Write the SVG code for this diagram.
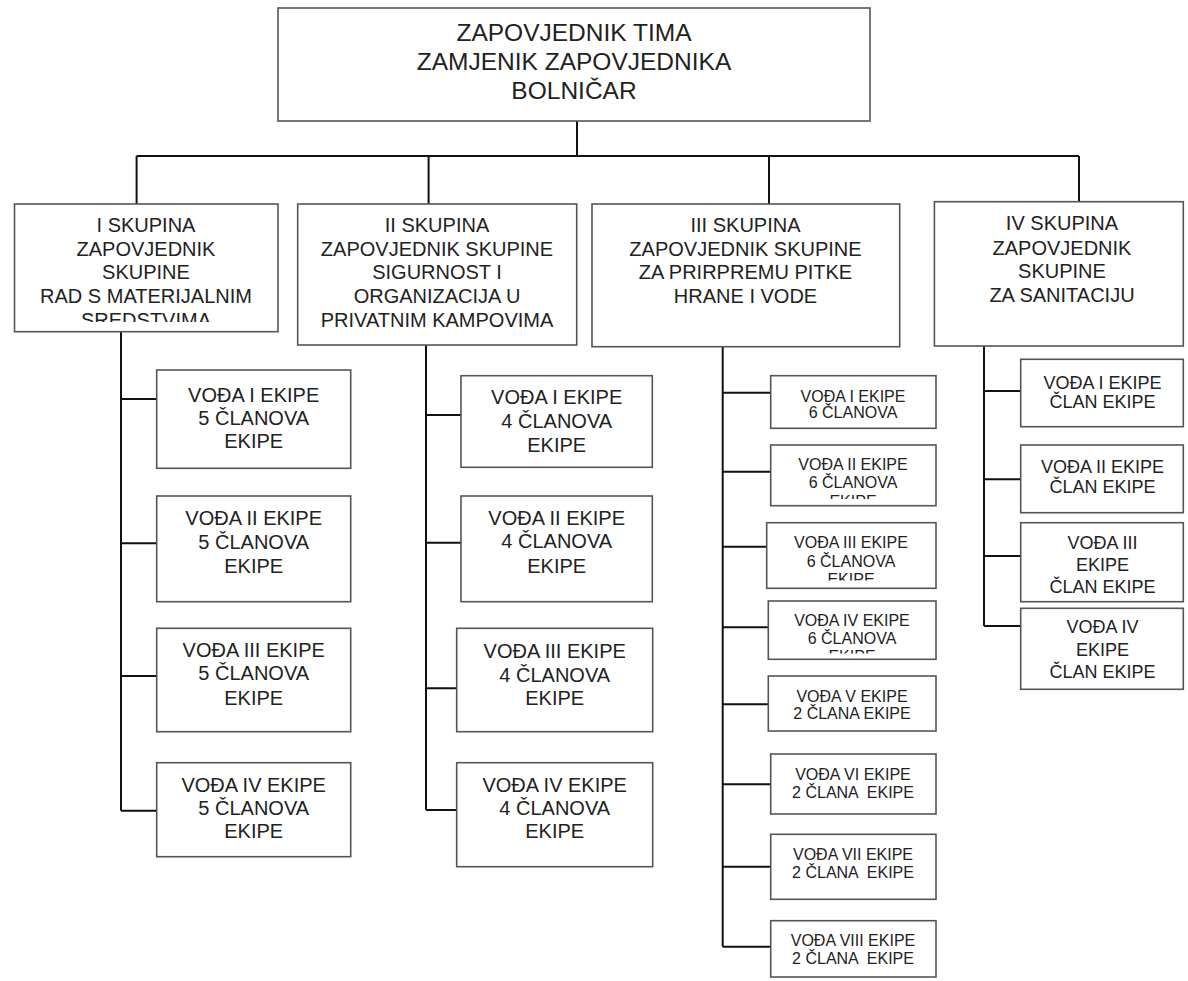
<svg xmlns="http://www.w3.org/2000/svg" width="1188" height="981" viewBox="0 0 1188 981">
<style>
.box{fill:#fff;stroke:#555;stroke-width:1.6}
.con{fill:none;stroke:#111;stroke-width:2}
text{font-family:"Liberation Sans",Arial,sans-serif;fill:#222;text-anchor:middle}
.t0{font-size:24.5px}
.t1{font-size:20px}
.t2{font-size:20px}
.t3{font-size:16px;white-space:pre}
.t4{font-size:18px}
</style>
<defs>
<clipPath id="cg1"><rect x="14" y="204" width="264" height="118"/></clipPath>
<clipPath id="cc2"><rect x="770" y="445" width="166" height="54"/></clipPath>
<clipPath id="cc3"><rect x="766" y="522" width="170" height="58.5"/></clipPath>
<clipPath id="cc4"><rect x="768" y="601" width="168" height="52.5"/></clipPath>
</defs>
<rect width="1188" height="981" fill="#fff"/>
<g id="connectors">
<path class="con" d="M577 121V156M136.6 156H1079M136.6 156V204M428.6 156V204M769 156V204M1079 156V202"/>
<path class="con" d="M121 331.7V810.7M121 399H156.7M121 543.3H156.7M121 676H156.7M121 810.7H156.7"/>
<path class="con" d="M426 345V810M426 415H461M426 542.7H461M426 688.3H456.7M426 810H456.7"/>
<path class="con" d="M722.7 346.7V946.7M722.7 392.7H770.7M722.7 471.7H770.7M722.7 546.7H766.7M722.7 627.3H768.3M722.7 704.3H768.3M722.7 784.3H770.7M722.7 866.7H770.7M722.7 946.7H770.7"/>
<path class="con" d="M984 346V626M984 391H1020.7M984 479.3H1020.7M984 556H1020.7M984 626H1020.7"/>
</g>
<g id="top">
<rect class="box" x="278" y="8" width="592" height="113"/>
<text class="t0" x="574" y="41">ZAPOVJEDNIK TIMA</text>
<text class="t0" x="574" y="69.5">ZAMJENIK ZAPOVJEDNIKA</text>
<text class="t0" x="574" y="98.5">BOLNIČAR</text>
</g>
<g id="g1">
<rect class="box" x="14.5" y="204" width="263.5" height="127.7"/>
<g clip-path="url(#cg1)">
<text class="t1" x="146" y="231.7">I SKUPINA</text>
<text class="t1" x="146" y="255.5">ZAPOVJEDNIK</text>
<text class="t1" x="146" y="279.3">SKUPINE</text>
<text class="t1" x="146" y="302.7">RAD S MATERIJALNIM</text>
<text class="t1" x="146" y="326.5">SREDSTVIMA</text>
</g>
</g>
<g id="g2">
<rect class="box" x="297.7" y="204" width="279" height="141"/>
<text class="t1" x="437" y="231.7">II SKUPINA</text>
<text class="t1" x="437" y="256">ZAPOVJEDNIK SKUPINE</text>
<text class="t1" x="437" y="279.3">SIGURNOST I</text>
<text class="t1" x="437" y="302.7">ORGANIZACIJA U</text>
<text class="t1" x="437" y="326.7">PRIVATNIM KAMPOVIMA</text>
</g>
<g id="g3">
<rect class="box" x="592" y="204" width="307.7" height="142.7"/>
<text class="t1" x="745.5" y="231.7">III SKUPINA</text>
<text class="t1" x="745.5" y="256">ZAPOVJEDNIK SKUPINE</text>
<text class="t1" x="745.5" y="279.3">ZA PRIRPREMU PITKE</text>
<text class="t1" x="745.5" y="302.7">HRANE I VODE</text>
</g>
<g id="g4">
<rect class="box" x="934.4" y="201.7" width="248.9" height="144.3"/>
<text class="t1" x="1062" y="230">IV SKUPINA</text>
<text class="t1" x="1062" y="254.5">ZAPOVJEDNIK</text>
<text class="t1" x="1062" y="278">SKUPINE</text>
<text class="t1" x="1062" y="301.7">ZA SANITACIJU</text>
</g>
<g id="c1e1">
<rect class="box" x="156.7" y="370" width="194" height="98.3"/>
<text class="t2" x="253.7" y="401.7">VOĐA I EKIPE</text>
<text class="t2" x="253.7" y="425">5 ČLANOVA</text>
<text class="t2" x="253.7" y="448.3">EKIPE</text>
</g>
<g id="c1e2">
<rect class="box" x="156.7" y="496" width="194" height="105.7"/>
<text class="t2" x="253.7" y="525">VOĐA II EKIPE</text>
<text class="t2" x="253.7" y="549">5 ČLANOVA</text>
<text class="t2" x="253.7" y="573">EKIPE</text>
</g>
<g id="c1e3">
<rect class="box" x="156.7" y="628.3" width="194" height="103.4"/>
<text class="t2" x="253.7" y="656.7">VOĐA III EKIPE</text>
<text class="t2" x="253.7" y="680">5 ČLANOVA</text>
<text class="t2" x="253.7" y="705">EKIPE</text>
</g>
<g id="c1e4">
<rect class="box" x="156.7" y="762.7" width="194" height="94"/>
<text class="t2" x="253.7" y="791.7">VOĐA IV EKIPE</text>
<text class="t2" x="253.7" y="815">5 ČLANOVA</text>
<text class="t2" x="253.7" y="837.5">EKIPE</text>
</g>
<g id="c2e1">
<rect class="box" x="461" y="375.7" width="191.3" height="91.6"/>
<text class="t2" x="556.7" y="404">VOĐA I EKIPE</text>
<text class="t2" x="556.7" y="428.3">4 ČLANOVA</text>
<text class="t2" x="556.7" y="451.7">EKIPE</text>
</g>
<g id="c2e2">
<rect class="box" x="461" y="496" width="191.3" height="105.7"/>
<text class="t2" x="556.7" y="525">VOĐA II EKIPE</text>
<text class="t2" x="556.7" y="548.3">4 ČLANOVA</text>
<text class="t2" x="556.7" y="573.3">EKIPE</text>
</g>
<g id="c2e3">
<rect class="box" x="456.7" y="628.3" width="196" height="103.4"/>
<text class="t2" x="554.7" y="658.3">VOĐA III EKIPE</text>
<text class="t2" x="554.7" y="681.7">4 ČLANOVA</text>
<text class="t2" x="554.7" y="705">EKIPE</text>
</g>
<g id="c2e4">
<rect class="box" x="456.7" y="762.7" width="196" height="104"/>
<text class="t2" x="554.7" y="791.7">VOĐA IV EKIPE</text>
<text class="t2" x="554.7" y="815">4 ČLANOVA</text>
<text class="t2" x="554.7" y="838.3">EKIPE</text>
</g>
<g id="c3e1">
<rect class="box" x="770.7" y="375.7" width="165.3" height="52.6"/>
<text class="t3" x="853" y="401.7">VOĐA I EKIPE</text>
<text class="t3" x="853" y="418.3">6 ČLANOVA</text>
</g>
<g id="c3e2">
<rect class="box" x="770.7" y="445" width="165.3" height="60.7"/>
<g clip-path="url(#cc2)">
<text class="t3" x="853" y="470">VOĐA II EKIPE</text>
<text class="t3" x="853" y="488.3">6 ČLANOVA</text>
<text class="t3" x="853" y="506.6">EKIPE</text>
</g>
</g>
<g id="c3e3">
<rect class="box" x="766.7" y="522.7" width="169.3" height="65.6"/>
<g clip-path="url(#cc3)">
<text class="t3" x="851" y="548.3">VOĐA III EKIPE</text>
<text class="t3" x="851" y="566.7">6 ČLANOVA</text>
<text class="t3" x="851" y="585">EKIPE</text>
</g>
</g>
<g id="c3e4">
<rect class="box" x="768.3" y="601" width="167.7" height="58.3"/>
<g clip-path="url(#cc4)">
<text class="t3" x="852" y="626">VOĐA IV EKIPE</text>
<text class="t3" x="852" y="644">6 ČLANOVA</text>
<text class="t3" x="852" y="662.3">EKIPE</text>
</g>
</g>
<g id="c3e5">
<rect class="box" x="768.3" y="676" width="167.7" height="55"/>
<text class="t3" x="852" y="701.7">VOĐA V EKIPE</text>
<text class="t3" x="852" y="719.3">2 ČLANA EKIPE</text>
</g>
<g id="c3e6">
<rect class="box" x="770.7" y="754" width="165.3" height="60"/>
<text class="t3" x="853" y="780">VOĐA VI EKIPE</text>
<text class="t3" x="853" y="798.3">2 ČLANA  EKIPE</text>
</g>
<g id="c3e7">
<rect class="box" x="770.7" y="834.3" width="165.3" height="65"/>
<text class="t3" x="853" y="860">VOĐA VII EKIPE</text>
<text class="t3" x="853" y="878.3">2 ČLANA  EKIPE</text>
</g>
<g id="c3e8">
<rect class="box" x="770.7" y="920.7" width="165.3" height="56.3"/>
<text class="t3" x="853" y="946">VOĐA VIII EKIPE</text>
<text class="t3" x="853" y="964">2 ČLANA  EKIPE</text>
</g>
<g id="c4e1">
<rect class="box" x="1020.7" y="359.3" width="162.6" height="67.4"/>
<text class="t4" x="1102.5" y="389.3">VOĐA I EKIPE</text>
<text class="t4" x="1102.5" y="408">ČLAN EKIPE</text>
</g>
<g id="c4e2">
<rect class="box" x="1020.7" y="445" width="162.6" height="67.7"/>
<text class="t4" x="1102.5" y="473.3">VOĐA II EKIPE</text>
<text class="t4" x="1102.5" y="493.3">ČLAN EKIPE</text>
</g>
<g id="c4e3">
<rect class="box" x="1020.7" y="522.7" width="162.6" height="79"/>
<text class="t4" x="1102.5" y="549.3">VOĐA III</text>
<text class="t4" x="1102.5" y="570.7">EKIPE</text>
<text class="t4" x="1102.5" y="592.7">ČLAN EKIPE</text>
</g>
<g id="c4e4">
<rect class="box" x="1020.7" y="608.3" width="162.6" height="81"/>
<text class="t4" x="1102.5" y="633.3">VOĐA IV</text>
<text class="t4" x="1102.5" y="656">EKIPE</text>
<text class="t4" x="1102.5" y="678.3">ČLAN EKIPE</text>
</g>
</svg>
